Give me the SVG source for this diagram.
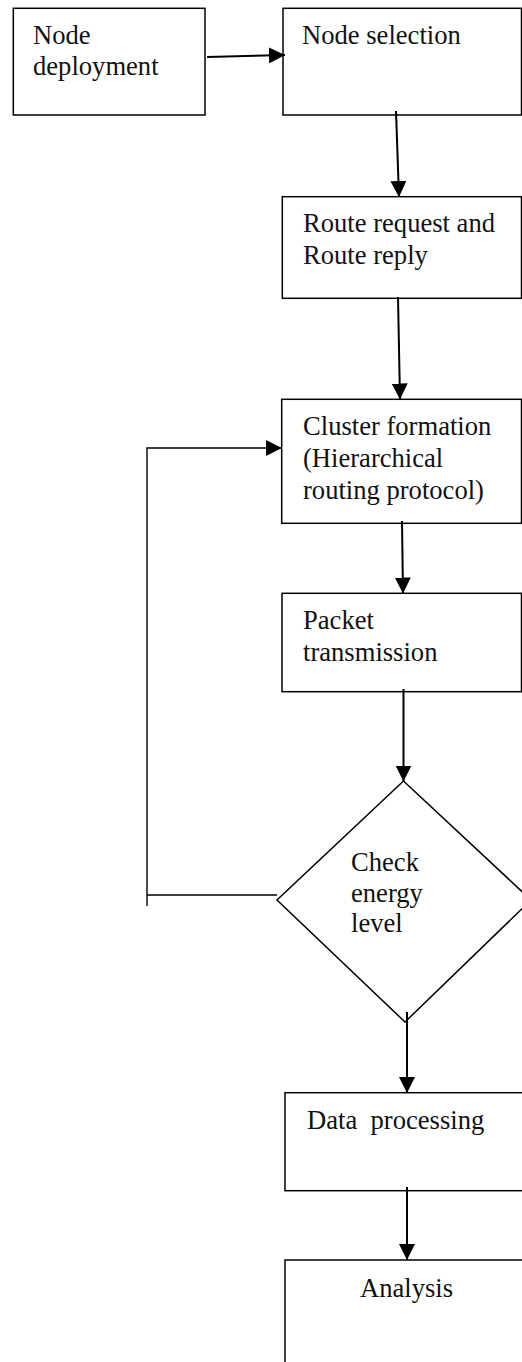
<svg xmlns="http://www.w3.org/2000/svg" width="522" height="1362" viewBox="0 0 522 1362">
<defs>
<style>
.box{fill:#fff;stroke:#000;stroke-width:1.5}
.t{font-family:"Liberation Serif","Times New Roman",serif;font-size:26.6px;fill:#111}
.c{fill:none;stroke:#000;stroke-width:2}
.fb{fill:none;stroke:#000;stroke-width:1.4}
</style>
<marker id="ah" viewBox="0 0 16 16" refX="16" refY="8" markerWidth="16" markerHeight="16" markerUnits="userSpaceOnUse" orient="auto">
<path d="M0,0 L16,8 L0,16 z" fill="#000"/>
</marker>
</defs>
<rect width="522" height="1362" fill="#fff"/>
<g id="n-deploy">
<rect class="box" x="13.3" y="8.3" width="191.7" height="106.7"/>
<text class="t" x="33" y="44">Node</text>
<text class="t" x="33" y="75">deployment</text>
</g>
<g id="n-select">
<rect class="box" x="283" y="8.3" width="238.5" height="106.7"/>
<text class="t" x="302" y="44">Node selection</text>
</g>
<g id="n-route">
<rect class="box" x="282.3" y="196.7" width="239.2" height="101.6"/>
<text class="t" x="303" y="232">Route request and</text>
<text class="t" x="303" y="264">Route reply</text>
</g>
<g id="n-cluster">
<rect class="box" x="281.7" y="399.3" width="239.8" height="124"/>
<text class="t" x="303" y="435">Cluster formation</text>
<text class="t" x="303" y="467">(Hierarchical</text>
<text class="t" x="303" y="499">routing protocol)</text>
</g>
<g id="n-packet">
<rect class="box" x="282" y="593.3" width="239.5" height="98.4"/>
<text class="t" x="303" y="629">Packet</text>
<text class="t" x="303" y="661">transmission</text>
</g>
<g id="n-check">
<polygon class="box" points="403.5,781 531,900 405,1022 277,900"/>
<text class="t" x="351" y="871">Check</text>
<text class="t" x="351" y="902">energy</text>
<text class="t" x="351" y="932">level</text>
</g>
<g id="n-data">
<rect class="box" x="285" y="1092.7" width="260" height="98"/>
<text class="t" x="307" y="1129" xml:space="preserve">Data  processing</text>
</g>
<g id="n-analysis">
<rect class="box" x="285" y="1260" width="260" height="140"/>
<text class="t" x="360" y="1297">Analysis</text>
</g>
<g id="connectors">
<path class="c" d="M207,57 L285,55" marker-end="url(#ah)"/>
<path class="c" d="M396,111 L399,197" marker-end="url(#ah)"/>
<path class="c" d="M398,297 L400,399.5" marker-end="url(#ah)"/>
<path class="fb" d="M277,895 H147 M147,906 V448 H282" marker-end="url(#ah)"/>
<path class="c" d="M402,521 L403,593.5" marker-end="url(#ah)"/>
<path class="c" d="M403.5,689 L403.5,781.5" marker-end="url(#ah)"/>
<path class="c" d="M407,1012 L407,1093" marker-end="url(#ah)"/>
<path class="c" d="M407,1187 L407,1260" marker-end="url(#ah)"/>
</g>
</svg>
